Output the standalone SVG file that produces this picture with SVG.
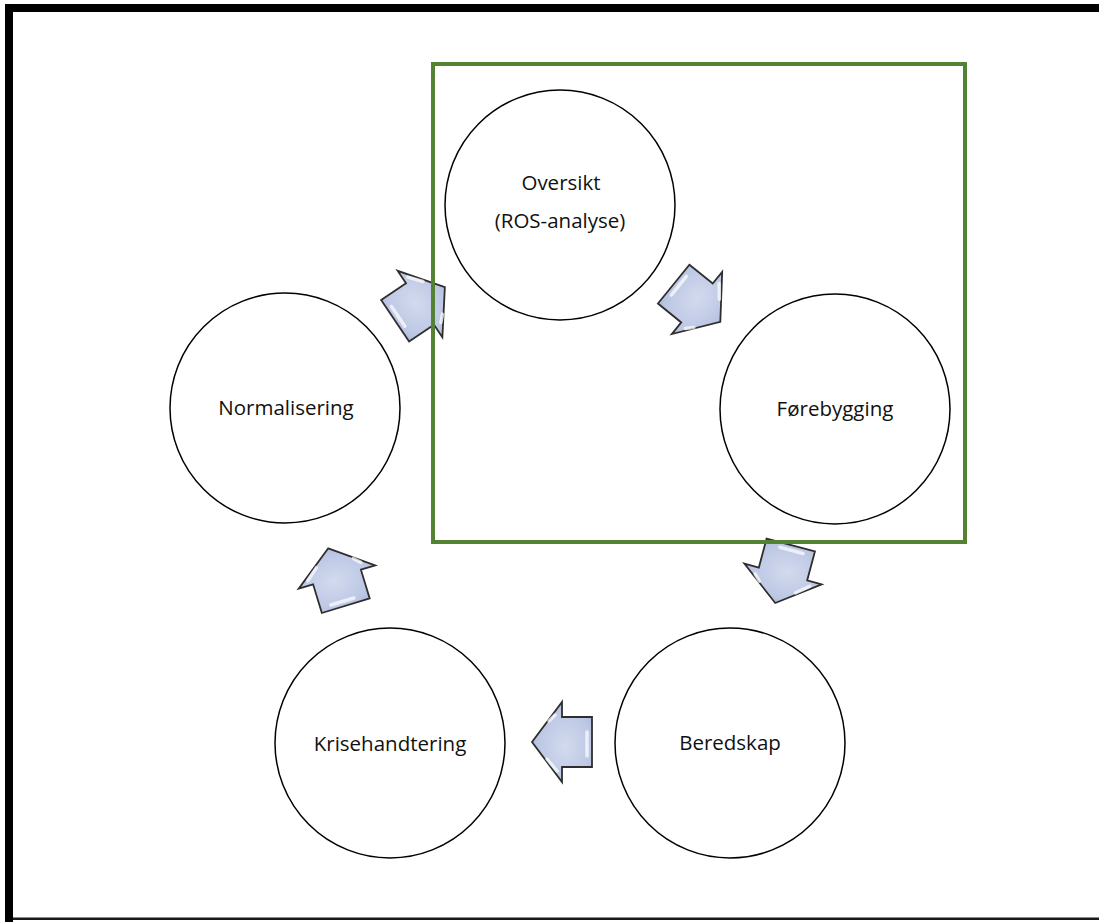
<svg xmlns="http://www.w3.org/2000/svg" width="1099" height="922" viewBox="0 0 1099 922">
  <defs>
    <style>
      .node { fill: #ffffff; stroke: #000000; stroke-width: 1.5; }
      .label { font-family: "Open Sans", "Noto Sans", "Liberation Sans", sans-serif; font-size: 20.5px; fill: #111111; text-anchor: middle; }
      .arrow-body { fill: url(#arrowFill); stroke: #2e2e2e; stroke-width: 1.8; stroke-linejoin: miter; }
      .shine { fill: none; stroke: #ffffff; stroke-width: 3.5; stroke-linecap: round; opacity: 0.7; }
    </style>
    <radialGradient id="arrowFill" cx="0.45" cy="0.45" r="0.65">
      <stop offset="0" stop-color="#d3daee"/>
      <stop offset="0.7" stop-color="#bcc7e4"/>
      <stop offset="1" stop-color="#a3b1d6"/>
    </radialGradient>
    <!-- block arrow pointing right; origin at the head base centre -->
    <g id="blockArrow">
      <path class="arrow-body" d="M -30,-25 L 0,-25 L 0,-40 L 30,0 L 0,40 L 0,25 L -30,25 Z"/>
      <path class="shine" d="M 5,-29 L 15,-17"/>
      <path class="shine" d="M -25,-14 L -25,10" opacity="0.5"/>
      <path class="shine" d="M 7,27 L 13,21" opacity="0.6"/>
    </g>
  </defs>

  <rect x="0" y="0" width="1099" height="922" fill="#ffffff"/>

  <!-- page frame -->
  <g id="frame">
    <rect x="5" y="4" width="1094" height="8" fill="#000000"/>
    <rect x="5" y="4" width="8" height="918" fill="#000000"/>
    <rect x="13" y="917.5" width="1086" height="2.5" fill="#1a1a1a"/>
  </g>

  <!-- connectors -->
  <g id="connectors">
    <use href="#blockArrow" transform="translate(420,304) rotate(-34)"/>
    <use href="#blockArrow" transform="translate(697,303) rotate(39)"/>
    <use href="#blockArrow" transform="translate(783,574) rotate(105)"/>
    <use href="#blockArrow" transform="translate(562,742) rotate(180)"/>
    <use href="#blockArrow" transform="translate(337,577) rotate(-107)"/>
  </g>

  <g id="node-oversikt">
    <circle class="node" cx="560" cy="205" r="115"/>
    <text class="label" x="561" y="190">Oversikt</text>
    <text class="label" x="560" y="228">(ROS-analyse)</text>
  </g>
  <g id="node-forebygging">
    <circle class="node" cx="835" cy="409" r="115"/>
    <text class="label" x="835" y="416">Førebygging</text>
  </g>
  <g id="node-beredskap">
    <circle class="node" cx="730" cy="743" r="115"/>
    <text class="label" x="730" y="750">Beredskap</text>
  </g>
  <g id="node-krisehandtering">
    <circle class="node" cx="390" cy="743" r="115"/>
    <text class="label" x="390" y="751">Krisehandtering</text>
  </g>
  <g id="node-normalisering">
    <circle class="node" cx="285" cy="408" r="115"/>
    <text class="label" x="286" y="415">Normalisering</text>
  </g>

  <!-- highlighted planning scope -->
  <g id="scope-box">
    <rect x="433" y="64" width="532" height="478" fill="none" stroke="#548235" stroke-width="4"/>
  </g>
</svg>
